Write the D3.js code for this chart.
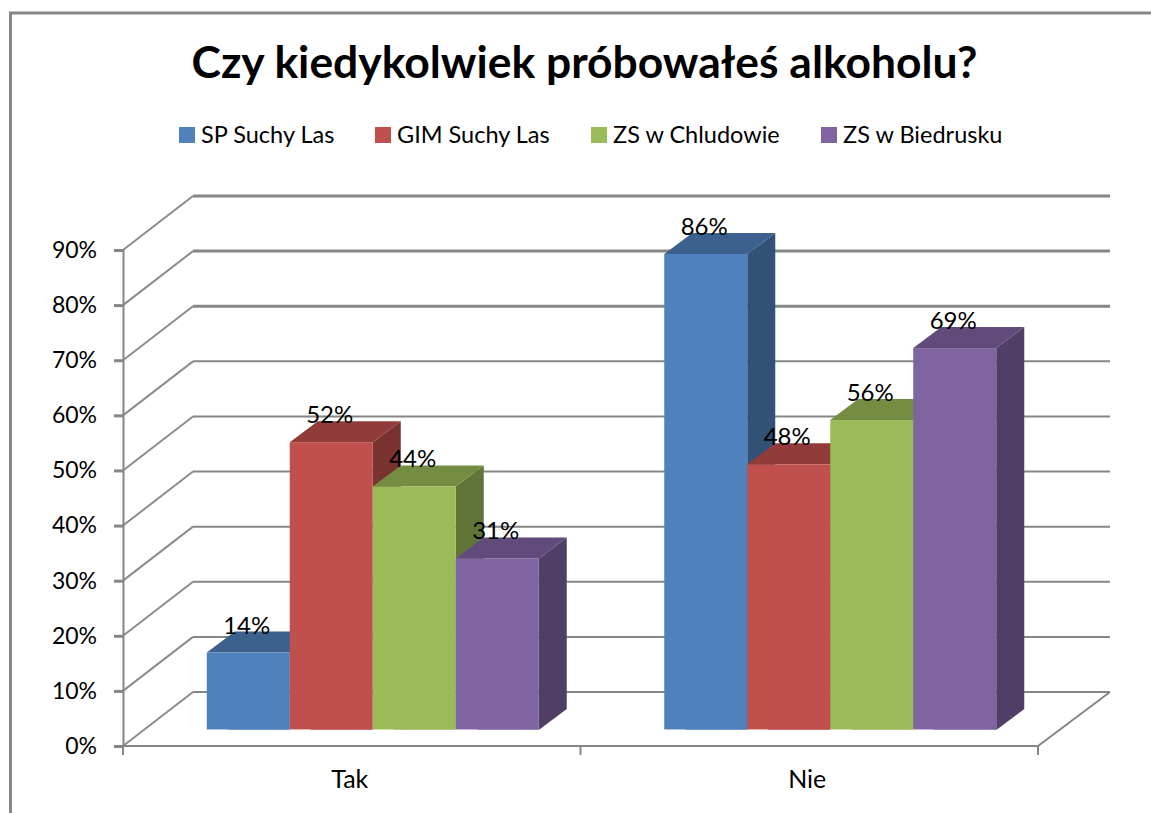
<!DOCTYPE html>
<html>
<head>
<meta charset="utf-8">
<script src="https://cdnjs.cloudflare.com/ajax/libs/d3/7.8.5/d3.min.js"></script>
<style>
  body { margin: 0; background: #fff; }
  text { font-family: Lato, "Open Sans", sans-serif; fill: #000; }
</style>
</head>
<body>
<svg id="chart-area" width="1151" height="813"></svg>
<script>
var categories = ['Tak', 'Nie'];
var seriesNames = ['SP Suchy Las', 'GIM Suchy Las', 'ZS w Chludowie', 'ZS w Biedrusku'];
var spSuchyLas = [14, 86];
var gimSuchyLas = [52, 48];
var zsChludowo = [44, 56];
var zsBiedrusko = [31, 69];
var colors = ['#4f81bd', '#c0504d', '#9bbb59', '#8064a2'];
var topColors = ['#3c618e', '#913c3a', '#758d43', '#604b7a'];
var sideColors = ['#315176', '#783230', '#617538', '#503e66'];
var yTicks = [0, 10, 20, 30, 40, 50, 60, 70, 80, 90];

var allSeries = [spSuchyLas, gimSuchyLas, zsChludowo, zsBiedrusko];

var svg = d3.select('#chart-area');

// depth of the back wall and of the bars
var wallX = 70, wallY = -54;
var depthX = 28, depthY = -21;
var floorY = 730;

var y = d3.scaleLinear().domain([0, 90]).range([746, 250]);
var barH = d3.scaleLinear().domain([0, 86]).range([0, 476]);
var x = d3.scaleBand().domain(categories).range([123, 1038]);
var x1 = d3.scaleBand().domain(seriesNames).range([-145, 187]);

// outer frame, cut by the picture on the right and at the bottom
svg.append('path')
   .attr('d', 'M10.5,813V13H1151')
   .attr('fill', 'none')
   .attr('stroke', '#868686')
   .attr('stroke-width', 3);

svg.append('text')
   .attr('x', 584.5)
   .attr('y', 78)
   .attr('text-anchor', 'middle')
   .attr('font-size', 44.4)
   .attr('font-weight', 700)
   .text('Czy kiedykolwiek próbowałeś alkoholu?');

// legend
var legendX = [179, 375, 591, 821];
var legend = svg.selectAll('.legend').data(seriesNames).enter().append('g')
   .attr('class', 'legend')
   .attr('transform', function(d, i) { return 'translate(' + legendX[i] + ',127)'; });
legend.append('rect')
   .attr('width', 16).attr('height', 16)
   .attr('fill', function(d, i) { return colors[i]; });
legend.append('text')
   .attr('x', 22).attr('y', 16)
   .attr('font-size', 23.5)
   .text(function(d) { return d; });

// walls
var wall = svg.append('g');
yTicks.forEach(function(t) {
    wall.append('path')
        .attr('d', 'M123,' + y(t) + 'L' + (123 + wallX) + ',' + (y(t) + wallY))
        .attr('fill', 'none')
        .attr('stroke', '#8c8c8c')
        .attr('stroke-width', 2);
    wall.append('path')
        .attr('d', 'M' + (123 + wallX) + ',' + (y(t) + wallY) + 'H1110')
        .attr('fill', 'none')
        .attr('stroke', '#868686')
        .attr('stroke-width', t >= 70 ? 3 : 2);
});
wall.append('path')
    .attr('d', 'M123,' + y(0) + 'H1038L1110,' + (y(0) + wallY))
    .attr('fill', 'none')
    .attr('stroke', '#868686')
    .attr('stroke-width', 2);

// axes
var yAxis = d3.axisLeft(y).tickValues(yTicks).tickSize(9).tickPadding(17)
    .tickFormat(function(d) { return d + '%'; });
var gy = svg.append('g').attr('transform', 'translate(123,0)').call(yAxis);
gy.select('.domain').attr('stroke', '#868686').attr('stroke-width', 2);
gy.selectAll('line').attr('stroke', '#868686').attr('stroke-width', 3);
gy.selectAll('text').attr('font-size', 23);

var xAxis = d3.axisBottom(x).tickSize(0).tickPadding(24);
var gx = svg.append('g').attr('transform', 'translate(-2,746)').call(xAxis);
gx.select('.domain').remove();
gx.selectAll('text').attr('font-size', 25);

// category separators
var edges = x.domain().map(function(d) { return x(d); }).concat([x.range()[1]]);
svg.selectAll('.sep').data(edges).enter().append('line')
   .attr('class', 'sep')
   .attr('x1', function(d) { return d; }).attr('x2', function(d) { return d; })
   .attr('y1', 746).attr('y2', 755)
   .attr('stroke', '#868686').attr('stroke-width', 2);

// bars, left to right so that each one covers the side of the previous one
var labelLayer = [];
categories.forEach(function(cat, c) {
    seriesNames.forEach(function(name, s) {
        var v = allSeries[s][c];
        var bx = x(cat) + x.bandwidth() / 2 + x1(name);
        var bw = x1.bandwidth();
        var top = floorY - barH(v);
        var g = svg.append('g');
        g.append('path')
         .attr('d', 'M' + (bx + bw) + ',' + top + 'l' + depthX + ',' + depthY + 'V' + (floorY + depthY) + 'L' + (bx + bw) + ',' + floorY + 'Z')
         .attr('fill', sideColors[s]);
        g.append('path')
         .attr('d', 'M' + bx + ',' + top + 'l' + depthX + ',' + depthY + 'h' + bw + 'l' + (-depthX) + ',' + (-depthY) + 'Z')
         .attr('fill', topColors[s]);
        g.append('rect')
         .attr('x', bx).attr('y', top)
         .attr('width', bw).attr('height', floorY - top)
         .attr('fill', colors[s]);
        // pale edge along the floor
        g.append('rect')
         .attr('x', bx).attr('y', floorY - 1)
         .attr('width', 21).attr('height', 2)
         .attr('fill', '#fff').attr('opacity', 0.55);
        g.append('rect')
         .attr('x', bx + 21).attr('y', floorY - 1)
         .attr('width', bw - 21).attr('height', 2)
         .attr('fill', '#fff').attr('opacity', 0.2);
        labelLayer.push({ x: bx + 40, y: top - 27, text: v + '%' });
    });
});

// value labels go on top of all the bars
svg.selectAll('.value').data(labelLayer).enter().append('text')
   .attr('class', 'value')
   .attr('x', function(d) { return d.x; })
   .attr('y', function(d) { return d.y + 8; })
   .attr('text-anchor', 'middle')
   .attr('font-size', 24)
   .text(function(d) { return d.text; });
</script>
</body>
</html>
